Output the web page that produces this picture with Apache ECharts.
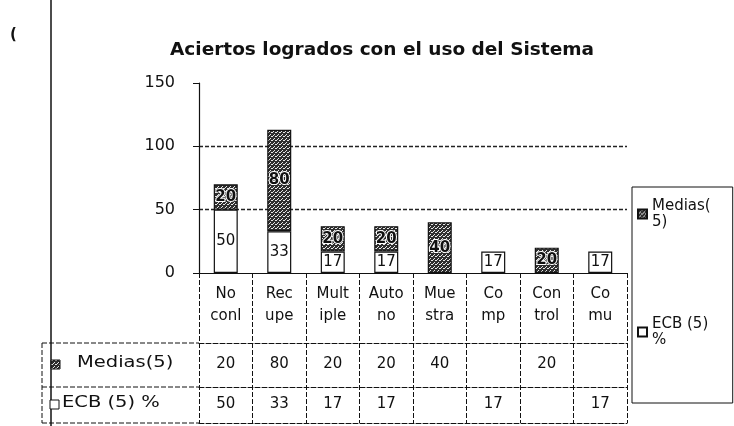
<!DOCTYPE html>
<html>
<head>
<meta charset="utf-8">
<script src="https://cdn.jsdelivr.net/npm/echarts@6/dist/echarts.min.js"></script>
<style>
  html, body { margin: 0; padding: 0; background: #fff; }
  #main { width: 734px; height: 426px; }
</style>
</head>
<body>
<div id="main"></div>
<script>
// chart data
const categories = ['No\nconl', 'Rec\nupe', 'Mult\niple', 'Auto\nno', 'Mue\nstra', 'Co\nmp', 'Con\ntrol', 'Co\nmu'];
const mediasValues = [20, 80, 20, 20, 40, null, 20, null];
const ecbValues = [50, 33, 17, 17, null, 17, null, 17];
const seriesNames = ['Medias(5)', 'ECB (5) %'];
const yMin = 0, yMax = 150, yStep = 50;

const FONT = 'DejaVu Sans';

// stipple fill for the Medias series (scanned hatching)
function makePattern() {
  const c = document.createElement('canvas');
  c.width = 4; c.height = 4;
  const g = c.getContext('2d');
  g.fillStyle = '#2e2e2e';
  g.fillRect(0, 0, 4, 4);
  g.fillStyle = '#e6e6e6';
  g.fillRect(0, 0, 1, 1);
  g.fillRect(2, 2, 1, 1);
  g.fillRect(3, 0, 1, 1);
  g.fillRect(1, 3, 1, 1);
  return c;
}
const pattern = makePattern();
const mediasFill = { image: pattern, repeat: 'repeat' };

const chart = echarts.init(document.getElementById('main'));

const tableLine = { color: '#111', width: 1, type: [5, 2] };
const cellText = { fontFamily: FONT, fontSize: 15, color: '#111' };

function rowAxis(values, offset, margin, showLabels) {
  return {
    type: 'category',
    data: values.map(v => (v == null ? '' : String(v))),
    position: 'bottom',
    offset: offset,
    gridIndex: 0,
    axisLine: { show: true, lineStyle: tableLine },
    axisTick: { show: false },
    axisLabel: Object.assign({ show: showLabels, interval: 0, margin: margin }, cellText),
    splitLine: { show: false }
  };
}

chart.setOption({
  animation: false,
  backgroundColor: '#fff',
  textStyle: { fontFamily: FONT },
  title: {
    text: 'Aciertos logrados con el uso del Sistema',
    left: 377,
    top: 36,
    textAlign: 'center',
    textStyle: { fontFamily: FONT, fontWeight: 'bold', fontSize: 18.5, color: '#111' }
  },
  legend: {
    data: seriesNames,
    orient: 'vertical',
    left: 632,
    top: 187,
    padding: [11, 22, 55, 5],
    itemGap: 86,
    itemWidth: 9,
    itemHeight: 9,
    borderColor: '#111',
    borderWidth: 1,
    icon: 'rect',
    formatter: name => (name === seriesNames[0] ? 'Medias(\n5)' : 'ECB (5)\n%'),
    textStyle: { fontFamily: FONT, fontSize: 15, lineHeight: 16, color: '#111' }
  },
  grid: { left: 199, right: 107, top: 83, bottom: 153, containLabel: false },
  xAxis: [
    {
      type: 'category',
      data: categories,
      axisLine: { show: true, lineStyle: { color: '#111', width: 1.2 } },
      axisTick: { show: true, length: 150, lineStyle: tableLine },
      axisLabel: Object.assign({ interval: 0, margin: 10, lineHeight: 22 }, cellText)
    },
    rowAxis(mediasValues, 70, 14, true),
    rowAxis(ecbValues, 114, 10, true),
    rowAxis(ecbValues, 150, 10, false)
  ],
  yAxis: {
    type: 'value',
    min: yMin,
    max: yMax,
    interval: yStep,
    axisLine: { show: true, lineStyle: { color: '#111', width: 1.2 } },
    axisTick: { show: true, length: 6, lineStyle: { color: '#111' } },
    axisLabel: { margin: 24, fontFamily: FONT, fontSize: 16, color: '#111' },
    splitLine: {
      show: true,
      showMinLine: false,
      showMaxLine: false,
      lineStyle: { color: '#222', width: 1.4, type: [4, 2] }
    }
  },
  series: [
    {
      name: seriesNames[1],
      type: 'bar',
      stack: 'total',
      barWidth: 24,
      data: ecbValues,
      itemStyle: { color: '#fff', borderColor: '#111', borderWidth: 1.2 },
      label: {
        show: true,
        position: 'inside',
        fontFamily: FONT,
        fontSize: 15,
        color: '#111'
      }
    },
    {
      name: seriesNames[0],
      type: 'bar',
      stack: 'total',
      barWidth: 24,
      data: mediasValues,
      itemStyle: { color: mediasFill, borderColor: '#111', borderWidth: 1.2 },
      label: {
        show: true,
        position: 'inside',
        fontFamily: FONT,
        fontSize: 15,
        fontWeight: 'bold',
        color: '#111',
        textBorderColor: '#fff',
        textBorderWidth: 2
      }
    }
  ],
  graphic: [
    // scanned page edge and stray mark
    { type: 'line', shape: { x1: 51, y1: 0, x2: 51, y2: 426 }, style: { stroke: '#111', lineWidth: 1.5 } },
    { type: 'text', left: 10, top: 28, style: { text: '(', fontFamily: FONT, fontSize: 15, fontWeight: 'bold', fill: '#111' } },
    // data table legend column
    { type: 'line', shape: { x1: 42, y1: 343, x2: 199, y2: 343 }, style: { stroke: '#111', lineWidth: 1, lineDash: [5, 2] } },
    { type: 'line', shape: { x1: 42, y1: 387, x2: 199, y2: 387 }, style: { stroke: '#111', lineWidth: 1, lineDash: [5, 2] } },
    { type: 'line', shape: { x1: 42, y1: 423, x2: 199, y2: 423 }, style: { stroke: '#111', lineWidth: 1, lineDash: [5, 2] } },
    { type: 'line', shape: { x1: 42, y1: 343, x2: 42, y2: 423 }, style: { stroke: '#111', lineWidth: 1, lineDash: [5, 2] } },
    { type: 'rect', shape: { x: 51, y: 360, width: 9, height: 9 }, style: { fill: mediasFill, stroke: '#111', lineWidth: 1 } },
    { type: 'text', x: 77, y: 356, scaleX: 1.3, style: { text: seriesNames[0], fontFamily: FONT, fontSize: 15, fill: '#111' } },
    { type: 'rect', shape: { x: 50, y: 400, width: 9, height: 9 }, style: { fill: '#fff', stroke: '#111', lineWidth: 1 } },
    { type: 'text', x: 62, y: 396, scaleX: 1.3, style: { text: seriesNames[1], fontFamily: FONT, fontSize: 15, fill: '#111' } }
  ]
});
</script>
</body>
</html>
